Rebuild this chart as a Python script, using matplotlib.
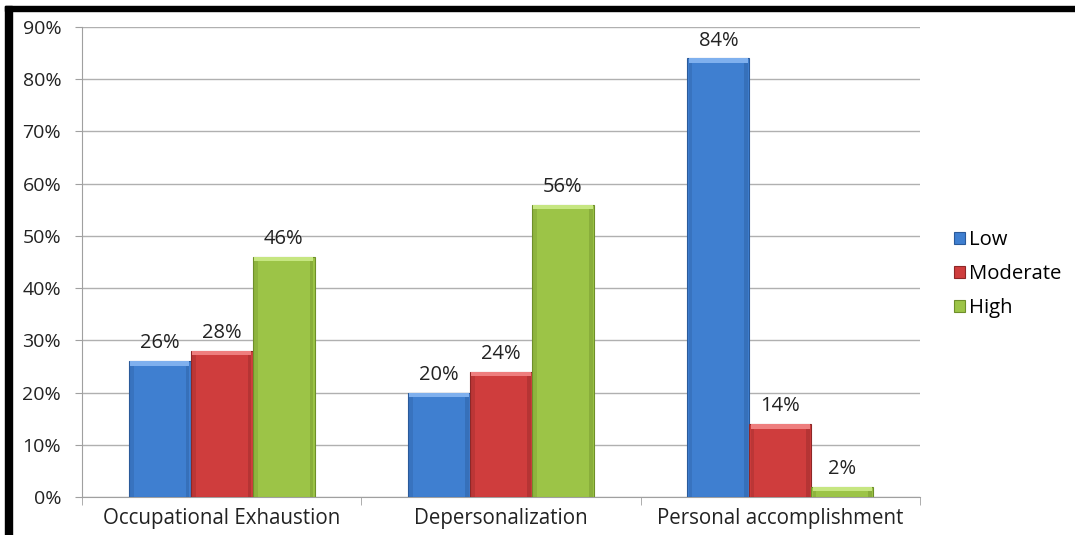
import matplotlib
matplotlib.use("Agg")
import matplotlib.pyplot as plt
import numpy as np
from matplotlib.patches import Rectangle

categories = ["Occupational Exhaustion", "Depersonalization", "Personal accomplishment"]
series_names = ["Low", "Moderate", "High"]
low = [26, 20, 84]
moderate = [28, 24, 14]
high = [46, 56, 2]
yticks = [0, 10, 20, 30, 40, 50, 60, 70, 80, 90]

values = [low, moderate, high]
main_colors = ["#3F7FD0", "#CF3D3D", "#9CC447"]
light_colors = ["#7FB0EE", "#EE7E7E", "#C6E681"]
dark_colors = ["#2A5A9A", "#8E2727", "#6E8F2A"]

plt.rcParams['font.family'] = ['Open Sans', 'DejaVu Sans']

fig = plt.figure(figsize=(10.75, 5.35), dpi=100)
ax = fig.add_axes([82/1075, 1-497/535, (920-82)/1075, (497-27)/535])

x = np.arange(len(categories))
w = 0.222
offsets = [-w, 0, w]
for i, vals in enumerate(values):
    xs = x + offsets[i]
    ax.bar(xs, vals, width=w, color=main_colors[i], edgecolor=dark_colors[i],
           linewidth=0.8, zorder=3, label=series_names[i])
    # bevel highlights
    v = np.array(vals, dtype=float)
    cap = np.minimum(0.9, v * 0.5)
    ax.bar(xs, cap, bottom=v - cap, width=w * 0.96, color=light_colors[i],
           linewidth=0, zorder=4)
    ax.bar(xs - w * 0.45, v - cap, width=w * 0.06, color=dark_colors[i], alpha=0.3,
           linewidth=0, zorder=4)
    ax.bar(xs + w * 0.45, v - cap, width=w * 0.06, color=dark_colors[i], alpha=0.4,
           linewidth=0, zorder=4)
    for xi, vi in zip(xs, vals):
        ax.text(xi, vi + 1.5, f"{vi}%", ha="center", va="bottom", fontsize=14.5,
                color="#222222", zorder=5)

ax.set_xlim(-0.5, 2.5)
ax.set_ylim(0, 90)
ax.set_yticks(yticks)
ax.set_yticklabels([f"{t}%" for t in yticks], fontsize=14, color="#222222")
ax.set_xticks(x)
ax.set_xticklabels(categories, fontsize=14.8, color="#222222")
ax.tick_params(axis='x', length=0, pad=8)
ax.tick_params(axis='y', length=5, color="#A0A0A0", pad=10)
# category boundary ticks
ax.set_xticks([-0.5, 0.5, 1.5, 2.5], minor=True)
ax.tick_params(axis='x', which='minor', length=6, color="#A0A0A0")

ax.grid(axis='y', color="#B0B0B0", linewidth=1, zorder=0)
ax.set_axisbelow(True)
for s in ["top", "right"]:
    ax.spines[s].set_visible(False)
ax.spines["left"].set_color("#A0A0A0")
ax.spines["bottom"].set_color("#A0A0A0")

handles, labels = ax.get_legend_handles_labels()
leg = fig.legend(handles, labels, loc="center left", bbox_to_anchor=(936/1075, 1-274/535),
                 frameon=False, fontsize=14.6, handlelength=0.55, handleheight=0.55,
                 handletextpad=0.2, labelspacing=0.7)

# black page borders
fig.patches.append(Rectangle((5/1075, 0), 7/1075, 1-6/535, transform=fig.transFigure,
                             color="black", zorder=10))
fig.patches.append(Rectangle((5/1075, 1-11/535), 1-5/1075, 5/535, transform=fig.transFigure,
                             color="black", zorder=10))

fig.savefig("out.png", dpi=100)
